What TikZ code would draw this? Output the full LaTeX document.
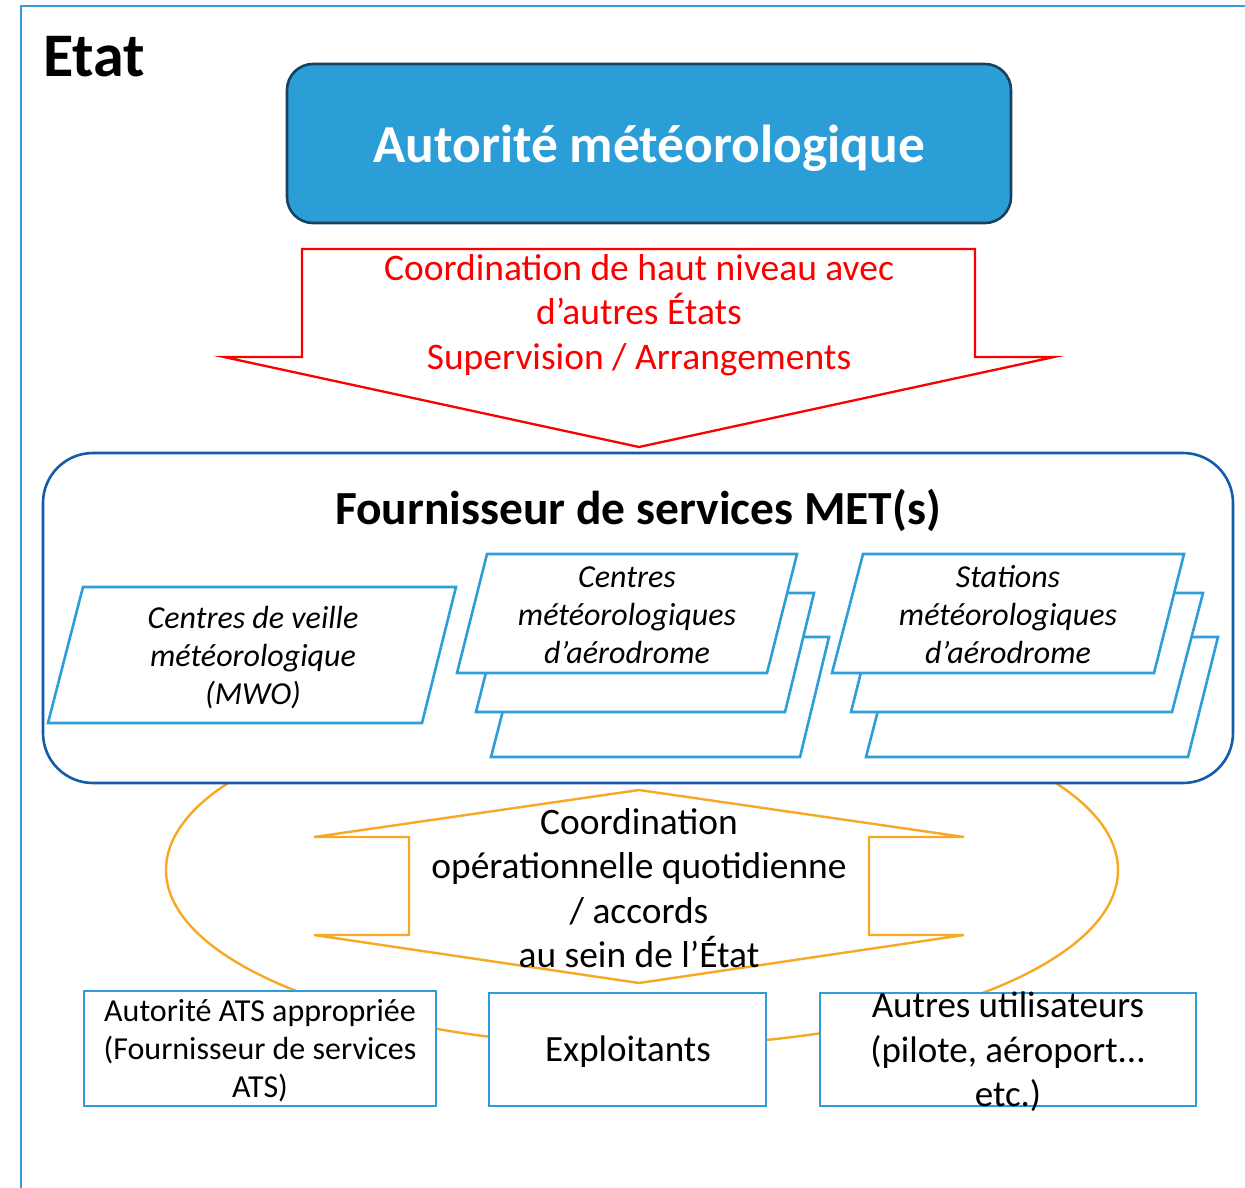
\documentclass[tikz,border=0pt]{standalone}
\usepackage{fontspec}
\setmainfont{Carlito}
\definecolor{framec}{RGB}{58,155,217}
\definecolor{autfill}{RGB}{43,158,216}
\definecolor{autdraw}{RGB}{22,66,96}
\definecolor{metblue}{RGB}{18,92,170}
\definecolor{parac}{RGB}{46,157,216}
\definecolor{redc}{RGB}{250,0,0}
\definecolor{orangec}{RGB}{247,168,36}
\newcommand{\fs}[2]{\fontsize{#1}{#2}\selectfont}
\tikzset{
  txt/.style={inner sep=0pt, align=center},
  para/.style={draw=parac, line width=2.6pt, fill=white, line join=miter},
  ubox/.style={draw=parac, line width=2.6pt, fill=white, inner sep=0pt},
  orng/.style={draw=orangec, line width=2.4pt},
}
\begin{document}
\begin{tikzpicture}[x=1pt,y=-1pt]
\useasboundingbox (0,0) rectangle (1245,1188);
% outer frame
\draw[framec, line width=2.2pt] (21,1190) -- (21,6) -- (1247,6);
\node[txt, anchor=base west, font=\fs{62}{74}\bfseries] (etat) at (43,77) {Etat};
% authority
\node[draw=autdraw, fill=autfill, line width=2.6pt, rounded corners=26pt,
      minimum width=724pt, minimum height=159pt, inner sep=0pt] (auth) at (649,143.5) {};
\node[txt, text=white, font=\fs{53.4}{64}\bfseries] (authtxt) at (649,148) {Autorité météorologique};
% red arrow
\draw[redc, line width=2.3pt, line join=miter] (302,249) coordinate (ra1) -- (975,249) -- (975,357) -- (1054,357)
  -- (639,447) coordinate (rtip) -- (224,357) -- (302,357) -- cycle;
\node[txt, text=redc, font=\fs{37.5}{44.5}] (redtxt) at (639,315)
  {Coordination de haut niveau avec\\d’autres États\\Supervision / Arrangements};
% orange ellipse (behind)
\draw[orng] (642,870) ellipse [x radius=476, y radius=176];
% MET provider big box
\node[draw=metblue, fill=white, line width=2.6pt, rounded corners=50pt,
      minimum width=1190pt, minimum height=330pt, inner sep=0pt] (met) at (638,618) {};
\node[txt, font=\fs{47.5}{56}\bfseries] (mettxt) at (638,510) {Fournisseur de services MET(s)};
% MWO
\draw[para] (83,587) -- (456,587) -- (422,723) -- (48,723) -- cycle;
\node[txt, font=\fs{32}{38}\itshape] (mwo) at (253,658) {Centres de veille\\météorologique\\(MWO)};
% Centres stack
\draw[para] (522,637) -- (829,637) -- (800,757) -- (491,757) -- cycle;
\draw[para] (506,593) -- (814,593) -- (785,712) -- (476,712) -- cycle;
\draw[para] (487,554) -- (797,554) -- (767,673) -- (457,673) -- cycle;
\node[txt, font=\fs{32}{38}\itshape] (cma) at (627,615) {Centres\\météorologiques\\d’aérodrome};
% Stations stack
\draw[para] (897,637) -- (1218,637) -- (1188,757) -- (866,757) -- cycle;
\draw[para] (881,593) -- (1203,593) -- (1172,712) -- (851,712) -- cycle;
\draw[para] (863,554) -- (1184,554) -- (1154,673) -- (832,673) -- cycle;
\node[txt, font=\fs{32}{38}\itshape] (sma) at (1008,615) {Stations\\météorologiques\\d’aérodrome};
% orange double arrow
\draw[orng, fill=white, line join=miter] (639,790) coordinate (otop) -- (964,837) -- (869,837) -- (869,935) -- (964,935)
  -- (639,983) coordinate (obot) -- (314,935) -- (409,935) -- (409,837) -- (314,837) -- cycle;
\node[txt, font=\fs{37.4}{44.5}] (coord) at (639,888)
  {Coordination\\opérationnelle quotidienne\\/ accords\\au sein de l’État};
% bottom boxes
\node[ubox, minimum width=352pt, minimum height=115pt] (ats) at (260,1048.5) {};
\node[txt, font=\fs{32}{38}] (atstxt) at (260,1051) {Autorité ATS appropriée\\(Fournisseur de services\\ATS)};
\node[ubox, minimum width=277pt, minimum height=113pt] (expl) at (627.5,1049.5) {};
\node[txt, font=\fs{37}{44.5}] (expltxt) at (628,1052) {Exploitants};
\node[ubox, minimum width=376pt, minimum height=113pt] (autres) at (1008,1049.5) {};
\node[txt, font=\fs{37}{44.5}] (autrestxt) at (1008,1052) {Autres utilisateurs\\(pilote, aéroport...\\etc.)};
\end{tikzpicture}
\end{document}
